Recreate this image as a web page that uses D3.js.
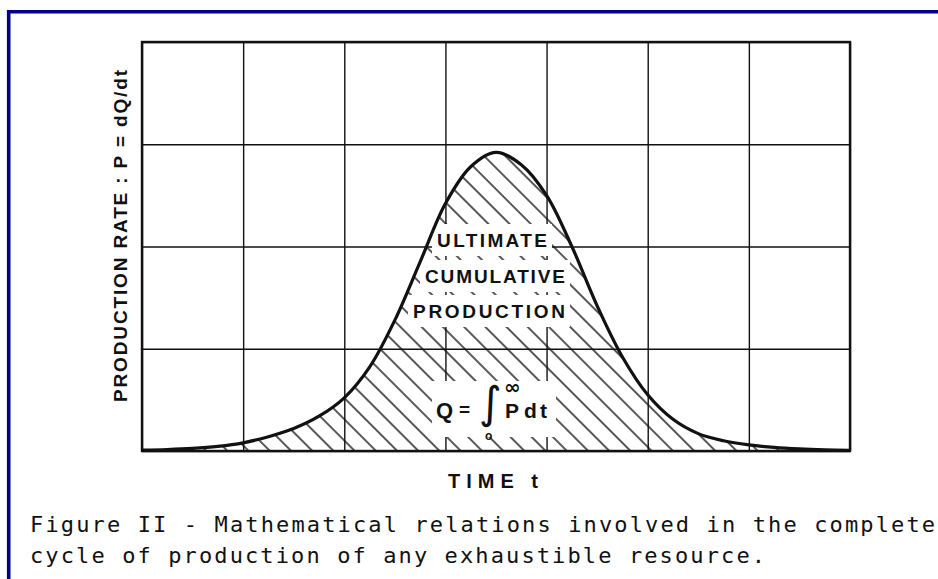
<!DOCTYPE html>
<html>
<head>
<meta charset="utf-8">
<script src="https://cdn.jsdelivr.net/npm/d3@7"></script>
<style>
  html, body { margin: 0; padding: 0; background: #fff; }
</style>
</head>
<body>
<svg id="svg"></svg>
<script>
// time in grid units, production rate in grid units
const times = [0, 0.25, 0.5, 0.75, 1, 1.25, 1.5, 1.75, 2, 2.25, 2.5, 2.75, 3, 3.25, 3.5,
               3.75, 4, 4.25, 4.5, 4.75, 5, 5.25, 5.5, 5.75, 6, 6.25, 6.5, 6.75, 7];
const rates = [0.008, 0.014, 0.025, 0.045, 0.08, 0.14, 0.22, 0.34, 0.52, 0.82, 1.28, 1.85, 2.42, 2.78, 2.92,
               2.8, 2.5, 2.0, 1.42, 0.92, 0.55, 0.31, 0.17, 0.1, 0.06, 0.035, 0.02, 0.011, 0.006];
const xTicks = [0, 1, 2, 3, 4, 5, 6, 7];
const yTicks = [0, 1, 2, 3, 4];
const areaLabels = ["ULTIMATE", "CUMULATIVE", "PRODUCTION"];
const captionLines = [
  "Figure II - Mathematical relations involved in the complete",
  "cycle of production of any exhaustible resource."
];

const W = 938, H = 579;
const LETTER = "'Liberation Sans', Arial, sans-serif";

const svg = d3.select("#svg")
    .attr("width", W)
    .attr("height", H)
    .style("display", "block");

svg.append("rect").attr("width", W).attr("height", H).attr("fill", "#fff");

// blue frame (left + top edges visible)
svg.append("path")
    .attr("d", `M8.7,${H} L8.7,11.7 L${W},11.7`)
    .attr("fill", "none")
    .attr("stroke", "#00008b")
    .attr("stroke-width", 3.6);

const x = d3.scaleLinear().domain([0, 7]).range([142, 850]);
const y = d3.scaleLinear().domain([0, 4]).range([451, 42]);

const defs = svg.append("defs");
// hatching
defs.append("pattern")
    .attr("id", "hatch")
    .attr("patternUnits", "userSpaceOnUse")
    .attr("width", 15)
    .attr("height", 15)
    .attr("patternTransform", "rotate(-45)")
    .append("line")
    .attr("x1", 7).attr("y1", -2).attr("x2", 7).attr("y2", 17)
    .attr("stroke", "#111")
    .attr("stroke-width", 1.4);

const pts = times.map((t, i) => [t, rates[i]]);
const smooth = d3.curveCatmullRom.alpha(0.5);

// grid
const grid = svg.append("g");
grid.append("g")
    .attr("transform", `translate(0,${y(0)})`)
    .call(d3.axisBottom(x).tickValues(xTicks).tickSize(y(4) - y(0)).tickFormat(""))
    .call(g => g.select(".domain").remove())
    .call(g => g.selectAll("line").attr("stroke", "#111").attr("stroke-width", 1.4));
grid.append("g")
    .attr("transform", `translate(${x(0)},0)`)
    .call(d3.axisLeft(y).tickValues(yTicks).tickSize(x(0) - x(7)).tickFormat(""))
    .call(g => g.select(".domain").remove())
    .call(g => g.selectAll("line").attr("stroke", "#111").attr("stroke-width", 1.4));

// hatched area under the curve
const area = d3.area()
    .x(d => x(d[0]))
    .y0(y(0))
    .y1(d => y(d[1]))
    .curve(smooth);
svg.append("path")
    .datum(pts)
    .attr("d", area)
    .attr("fill", "url(#hatch)");

// frame
svg.append("rect")
    .attr("x", x(0)).attr("y", y(4))
    .attr("width", x(7) - x(0)).attr("height", y(0) - y(4))
    .attr("fill", "none")
    .attr("stroke", "#111")
    .attr("stroke-width", 2.4);

// labels inside the area (white boxes knock out the hatching)
const labelG = svg.append("g");
const labelPos = [[492, 247, 110], [495, 283, 140], [489, 318, 152]];
areaLabels.forEach((s, i) => {
    const [cx, by, len] = labelPos[i];
    labelG.append("rect")
        .attr("x", cx - len / 2 - 5).attr("y", by - 23)
        .attr("width", len + 10).attr("height", 32)
        .attr("fill", "#fff");
});
areaLabels.forEach((s, i) => {
    const [cx, by, len] = labelPos[i];
    labelG.append("text")
        .attr("x", cx - len / 2).attr("y", by)
        .attr("textLength", len)
        .attr("lengthAdjust", "spacing")
        .style("font-family", LETTER)
        .style("font-size", "19px")
        .style("font-weight", "bold")
        .attr("fill", "#111")
        .text(s);
});

// Q = integral P dt
const f = svg.append("g");
f.append("rect").attr("x", 432).attr("y", 381).attr("width", 124).attr("height", 56).attr("fill", "#fff");
const fText = (tx, ty, s, size, extra) => {
    const t = f.append("text")
        .attr("x", tx).attr("y", ty)
        .style("font-family", LETTER)
        .style("font-size", size + "px")
        .attr("fill", "#111")
        .text(s);
    if (extra) extra(t);
    return t;
};
fText(436, 418, "Q", 22, t => t.style("font-weight", "bold"));
fText(459, 416, "=", 19, t => t.style("font-weight", "bold"));
fText(479, 418, "\u222B", 44, t => t.style("font-family", "'DejaVu Sans', sans-serif"));
fText(504, 394, "\u221E", 20, t => t.style("font-family", "'DejaVu Sans', sans-serif").style("font-weight", "bold"));
fText(485, 440, "o", 12, t => t.style("font-weight", "bold"));
fText(505, 418, "P", 21, t => t.style("font-weight", "bold"));
fText(524, 418, "d", 21, t => t.style("font-weight", "bold"));
fText(540, 418, "t", 21, t => t.style("font-weight", "bold"));

// curve
svg.append("path")
    .datum(pts)
    .attr("d", d3.line().x(d => x(d[0])).y(d => y(d[1])).curve(smooth))
    .attr("fill", "none")
    .attr("stroke", "#111")
    .attr("stroke-width", 3.2)
    .attr("stroke-linejoin", "round");

// axis titles
svg.append("text")
    .attr("transform", `translate(127,402) rotate(-90)`)
    .attr("textLength", 332)
    .attr("lengthAdjust", "spacing")
    .style("font-family", LETTER)
    .style("font-size", "19px")
    .style("font-weight", "bold")
    .attr("fill", "#111")
    .text("PRODUCTION RATE : P = dQ/dt");

svg.append("text")
    .attr("x", 448).attr("y", 488)
    .attr("textLength", 90)
    .attr("lengthAdjust", "spacing")
    .style("font-family", LETTER)
    .style("font-size", "20px")
    .style("font-weight", "bold")
    .attr("fill", "#111")
    .text("TIME  t");

// caption
const capLen = [905, 735];
captionLines.forEach((s, i) => {
    svg.append("text")
        .attr("x", 30).attr("y", 532 + i * 31)
        .attr("textLength", capLen[i])
        .attr("lengthAdjust", "spacing")
        .style("font-family", "'DejaVu Sans Mono', monospace")
        .style("font-size", "22px")
        .attr("fill", "#111")
        .text(s);
});
</script>
</body>
</html>
